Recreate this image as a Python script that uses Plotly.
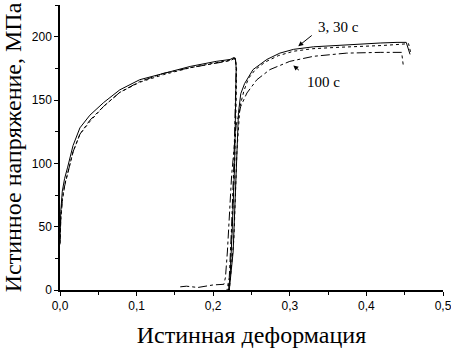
import plotly.graph_objects as go

# ---- data ----
# 3 s (solid)
strain_3 = [0, 0.001, 0.003, 0.006, 0.010, 0.017, 0.026, 0.039, 0.057, 0.078, 0.104, 0.135, 0.170, 0.204, 0.222, 0.227, 0.229,
            0.230, 0.2295, 0.228, 0.225, 0.222, 0.220,
            0.221, 0.226, 0.230, 0.233, 0.236, 0.241, 0.252, 0.270, 0.287, 0.305, 0.331, 0.374, 0.418, 0.440, 0.452, 0.457]
stress_3 = [40, 62, 78, 88, 97, 114, 128, 138, 148, 158, 166, 171, 176.5, 180.5, 182, 183.5, 183,
            175, 150, 100, 50, 10, 0,
            0, 30, 100, 140, 155, 163, 174, 182, 187, 190, 192, 193.7, 195, 195.5, 195.5, 186]

# 30 s (dotted)
strain_30 = [0, 0.001, 0.003, 0.006, 0.010, 0.017, 0.026, 0.039, 0.057, 0.078, 0.104, 0.135, 0.170, 0.204, 0.222, 0.227, 0.229,
             0.2305, 0.230, 0.228, 0.225, 0.222, 0.219,
             0.221, 0.227, 0.231, 0.235, 0.240, 0.246, 0.255, 0.268, 0.285, 0.305, 0.330, 0.360, 0.390, 0.420, 0.445, 0.455, 0.458]
stress_30 = [37, 57, 72, 83, 92, 109, 123, 133, 145, 156, 164, 170, 175.5, 179.5, 181.5, 183, 182.5,
             175, 150, 100, 50, 10, 0,
             0, 40, 110, 145, 157, 167, 174, 180, 185, 188.5, 190.5, 191.5, 192, 193, 194, 194.5, 187]

# 100 s (dash-dot)
strain_100 = [0, 0.001, 0.003, 0.006, 0.010, 0.017, 0.026, 0.039, 0.057, 0.078, 0.104, 0.135, 0.170, 0.204, 0.222, 0.227, 0.229,
              0.230, 0.229, 0.227, 0.224, 0.221, 0.218, None,
              0.157, 0.165, 0.180, 0.200, 0.214, 0.216, 0.2185, 0.224, 0.230, 0.236, 0.244, 0.257, 0.274, 0.300, 0.331, 0.374, 0.418, 0.446, 0.448]
stress_100 = [36, 55, 70, 82, 92, 109, 123, 134, 145, 156, 164.5, 171, 175.5, 179, 181, 182.5, 182,
              175, 150, 100, 50, 10, 0, None,
              2.5, 3, 2, 4, 4.5, 10, 30, 90, 130, 145, 155.5, 166, 174, 180.5, 184.5, 187, 187.6, 187.6, 178]

x_ticks = [0.0, 0.1, 0.2, 0.3, 0.4, 0.5]
x_tick_labels = ["0,0", "0,1", "0,2", "0,3", "0,4", "0,5"]
y_ticks = [0, 50, 100, 150, 200]

fig = go.Figure()
fig.add_trace(go.Scatter(x=strain_3, y=stress_3, mode="lines", name="3 с",
                         line=dict(color="black", width=1, dash="solid"), connectgaps=False))
fig.add_trace(go.Scatter(x=strain_30, y=stress_30, mode="lines", name="30 с",
                         line=dict(color="black", width=1, dash="dot"), connectgaps=False))
fig.add_trace(go.Scatter(x=strain_100, y=stress_100, mode="lines", name="100 с",
                         line=dict(color="black", width=1, dash="dashdot"), connectgaps=False))

serif = "Liberation Serif, Times New Roman, serif"
sans = "Liberation Sans, Arial, sans-serif"

fig.add_annotation(x=0.311, y=192.4, ax=15, ay=-12, text="", showarrow=True,
                   arrowhead=2, arrowsize=1, arrowwidth=1, arrowcolor="black")
fig.add_annotation(x=0.364, y=207.9, text="3, 30 с", showarrow=False,
                   font=dict(family=serif, size=15, color="black"))
fig.add_annotation(x=0.3046, y=177.3, ax=7, ay=6, text="", showarrow=True,
                   arrowhead=2, arrowsize=1, arrowwidth=1, arrowcolor="black")
fig.add_annotation(x=0.344, y=164.4, text="100 с", showarrow=False,
                   font=dict(family=serif, size=15, color="black"))

fig.update_layout(
    width=451, height=348,
    margin=dict(l=60, r=8, t=5, b=58),
    paper_bgcolor="white", plot_bgcolor="white",
    showlegend=False,
    separators=", ",
    font=dict(family=sans, size=12, color="black"),
)
fig.update_xaxes(
    range=[0, 0.5], tickvals=x_ticks, ticktext=x_tick_labels,
    showline=True, linecolor="black", linewidth=1.5, showgrid=False, zeroline=False,
    ticks="outside", ticklen=4, tickwidth=1, tickcolor="black",
    minor=dict(ticks="outside", ticklen=3, tickwidth=1, tickcolor="black", dtick=0.05, tick0=0),
    tickfont=dict(family=sans, size=12, color="black"),
    ticklabeloverflow="allow",
    title=dict(text="Истинная деформация", font=dict(family=serif, size=24, color="black"), standoff=16),
    automargin=False,
)
fig.update_yaxes(
    range=[0, 225], tickvals=y_ticks,
    showline=True, linecolor="black", linewidth=1.5, showgrid=False, zeroline=False,
    ticks="outside", ticklen=4, tickwidth=1, tickcolor="black",
    minor=dict(ticks="outside", ticklen=3, tickwidth=1, tickcolor="black", dtick=25, tick0=0),
    tickfont=dict(family=sans, size=12, color="black"),
    ticklabeloverflow="allow",
    title=dict(text="Истинное напряжение, МПа", font=dict(family=serif, size=24, color="black"), standoff=5),
    automargin=False,
)

fig.write_html("out.html", config={"displayModeBar": False},
               post_script="document.body.style.margin='0';document.body.style.overflow='hidden';")
